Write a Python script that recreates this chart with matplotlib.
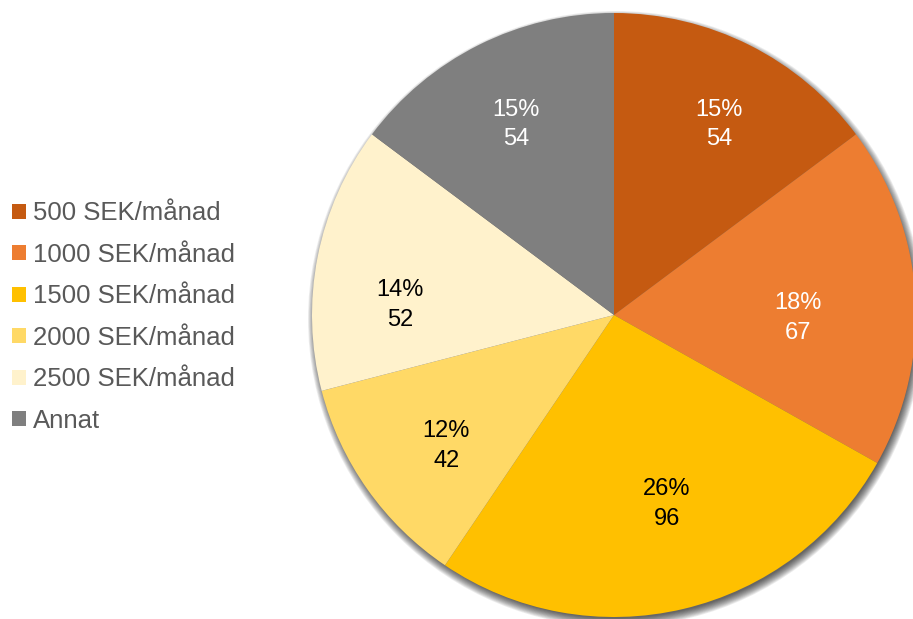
import matplotlib
matplotlib.use('Agg')
import matplotlib.pyplot as plt
from matplotlib.patches import Circle
import numpy as np

categories = ['500 SEK/månad', '1000 SEK/månad', '1500 SEK/månad',
              '2000 SEK/månad', '2500 SEK/månad', 'Annat']
counts = [54, 67, 96, 42, 52, 54]
colors = ['#C55A11', '#ED7D31', '#FFC000', '#FFD966', '#FFF2CC', '#7F7F7F']
text_colors = ['white', 'white', 'black', 'black', 'black', 'white']
# label placement: radial distance (fraction of radius) and angle shift (deg)
label_dist = [0.72, 0.61, 0.65, 0.705, 0.71, 0.71]
label_shift = [-2.2, -4.6, 2.3, 2.7, 8.4, 0.6]

plt.rcParams['font.family'] = ['Liberation Sans', 'DejaVu Sans']

W, H = 913, 619
fig = plt.figure(figsize=(W / 100, H / 100), dpi=100)
ax = fig.add_axes([0, 0, 1, 1])

cx, cy, r = 614, 304, 302

# soft drop shadow
for i in range(12):
    ax.add_patch(Circle((cx + 2, cy - 4), r + 6 - i * 0.8, color='black',
                        alpha=0.07, lw=0, zorder=0))

wedges, _ = ax.pie(counts, colors=colors, startangle=90, counterclock=False,
                   center=(cx, cy), radius=r, frame=True,
                   wedgeprops=dict(linewidth=0, zorder=1))
ax.set_xlim(0, W)
ax.set_ylim(0, H)
ax.set_aspect('equal')
ax.axis('off')

total = sum(counts)
for w, n, tc, d, s in zip(wedges, counts, text_colors, label_dist, label_shift):
    ang = np.deg2rad((w.theta1 + w.theta2) / 2 + s)
    x = cx + d * r * np.cos(ang)
    y = cy + d * r * np.sin(ang)
    ax.text(x, y, f'{round(100 * n / total)}%\n{n}', ha='center', va='center',
            fontsize=17, color=tc, linespacing=1.45, zorder=3)

ax.legend(wedges, categories, loc='center left', bbox_to_anchor=(-0.012, 0.488),
          frameon=False, fontsize=18.5, handlelength=0.52, handleheight=0.52,
          handletextpad=0.3, labelspacing=0.68, labelcolor='#595959')

fig.savefig('out.png', dpi=100)
